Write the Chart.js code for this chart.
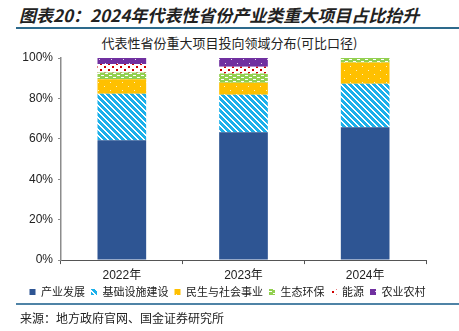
<!DOCTYPE html>
<html>
<head>
  <meta charset="utf-8">
  <title>代表性省份重大项目投向领域分布</title>
  <script src="https://cdn.jsdelivr.net/npm/chart.js"></script>
  <style>
    body { margin: 0; background: #fff; }
    #page { position: relative; width: 459px; height: 331px; overflow: hidden; font-family: "Noto Sans CJK SC", sans-serif; }
    #title { position: absolute; left: 19px; top: 2px; font-size: 17px; font-weight: bold; font-style: italic; color: #222; white-space: nowrap; }
    .rule { position: absolute; left: 16px; right: 0; height: 2px; }
    #rule1 { top: 27px; background: #2d6a8c; }
    #rule2 { top: 303px; background: #4f83a6; }
    #sub { position: absolute; left: 0; width: 459px; top: 33px; text-align: center; font-size: 13px; color: #222; }
    #source { position: absolute; left: 20px; top: 309px; font-size: 12px; color: #222; }
    #wrap { position: absolute; left: 0; top: 0; width: 459px; height: 331px; }
  </style>
</head>
<body>
<div id="page">
  <div id="title">图表20：2024年代表性省份产业类重大项目占比抬升</div>
  <div class="rule" id="rule1"></div>
  <div id="sub">代表性省份重大项目投向领域分布(可比口径)</div>
  <div id="wrap"><canvas id="chart" width="459" height="331"></canvas></div>
  <div class="rule" id="rule2"></div>
  <div id="source">来源：地方政府官网、国金证券研究所</div>
</div>

<script>
  // 年份
  var years = ['2022年', '2023年', '2024年'];
  var yTicks = [0, 20, 40, 60, 80, 100];

  // 各领域占比(%)
  var industry = [59.3, 63.2, 65.7];      // 产业发展
  var infra = [23.0, 18.6, 21.5];         // 基础设施建设
  var livelihood = [7.2, 6.0, 10.6];      // 民生与社会事业
  var ecology = [3.3, 4.5, 2.2];          // 生态环保
  var energy = [4.2, 3.4, 0];             // 能源
  var agriculture = [3.0, 4.3, 0];        // 农业农村

  // 小图案填充
  function makePattern(w, h, bg, fg, test) {
    var c = document.createElement('canvas');
    c.width = w; c.height = h;
    var ctx = c.getContext('2d');
    ctx.fillStyle = bg;
    ctx.fillRect(0, 0, w, h);
    ctx.fillStyle = fg;
    for (var x = 0; x < w; x++) {
      for (var y = 0; y < h; y++) {
        if (test(x, y)) ctx.fillRect(x, y, 1, 1);
      }
    }
    return ctx.createPattern(c, 'repeat');
  }

  var pStripe = makePattern(6, 6, '#ffffff', '#1cb0ea', function(x, y) {
    return ((x - y) % 6 + 6) % 6 < 4;
  });
  var pYellow = makePattern(12, 8, '#ffc000', '#fff3c8', function(x, y) {
    return (x == 2 && y == 2) || (x == 8 && y == 6);
  });
  var pGreen = makePattern(8, 4, '#92d050', '#ffffff', function(x, y) {
    return (y == 1 && x >= 1 && x <= 3) || (y == 3 && x >= 5 && x <= 7);
  });
  var pRed = makePattern(8, 6, '#ffffff', '#d00000', function(x, y) {
    return (x < 2 && y < 2) || (x >= 4 && x < 6 && y >= 3 && y < 5);
  });
  var pPurple = makePattern(12, 8, '#7030a0', '#e6d6f0', function(x, y) {
    return (x == 3 && y == 3) || (x == 9 && y == 7);
  });

  function ds(label, data, fill) {
    return {
      label: label,
      data: data,
      backgroundColor: fill,
      borderWidth: 0,
      barPercentage: 0.8,
      categoryPercentage: 0.5
    };
  }

  // 图例位置微调：整宽居中，并上移贴近坐标轴
  var legendNudge = {
    id: 'legendNudge',
    afterLayout: function(chart) {
      var lg = chart.legend;
      if (!lg) return;
      lg.left = 0;
      lg.right = 455;
      lg.width = 455;
      lg.top -= 6;
      lg.bottom -= 6;
    }
  };

  var chart = new Chart(document.getElementById('chart'), {
    type: 'bar',
    data: {
      labels: years,
      datasets: [
        ds('产业发展', industry, '#2e5593'),
        ds('基础设施建设', infra, pStripe),
        ds('民生与社会事业', livelihood, pYellow),
        ds('生态环保', ecology, pGreen),
        ds('能源', energy, pRed),
        ds('农业农村', agriculture, pPurple)
      ]
    },
    plugins: [legendNudge],
    options: {
      responsive: false,
      animation: false,
      layout: { padding: { top: 58, right: 33, bottom: 17.5, left: 0 } },
      plugins: {
        tooltip: { enabled: false },
        legend: {
          position: 'bottom',
          labels: {
            boxWidth: 6,
            boxHeight: 6,
            padding: 6,
            color: '#222',
            font: { family: '"Noto Sans CJK SC", sans-serif', size: 11 }
          }
        }
      },
      scales: {
        x: {
          stacked: true,
          grid: { offset: true, drawOnChartArea: false, drawTicks: true, tickLength: 4, color: '#555' },
          border: { color: '#555', width: 1 },
          ticks: {
            padding: 4,
            color: '#222',
            font: { family: '"Liberation Sans", "Noto Sans CJK SC", sans-serif', size: 12 }
          }
        },
        y: {
          stacked: true,
          min: 0,
          max: 100,
          afterFit: function(scale) { scale.width = 61; },
          afterBuildTicks: function(scale) {
            scale.ticks = yTicks.map(function(v) { return { value: v }; });
          },
          grid: { drawOnChartArea: false, drawTicks: true, tickLength: 3, color: '#8c8c8c' },
          border: { color: '#8c8c8c', width: 1.5 },
          ticks: {
            padding: 5,
            color: '#222',
            font: { family: '"Liberation Sans", Arial, sans-serif', size: 12 },
            callback: function(v) { return v + '%'; }
          }
        }
      }
    }
  });
</script>
</body>
</html>
